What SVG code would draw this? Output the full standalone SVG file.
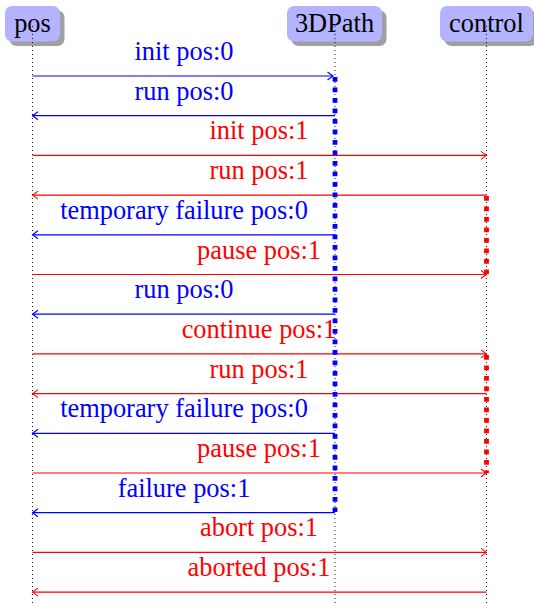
<svg xmlns="http://www.w3.org/2000/svg" width="534" height="604" viewBox="0 0 534 604">
<style>
.box{fill:#b3b3ff;stroke:none}
.shadow{fill:#a0a0a0;stroke:none}
.ntext{font-family:"Liberation Serif","Times New Roman","DejaVu Serif",serif;font-size:26.4px;fill:#000;text-anchor:middle}
.life{stroke:#000;stroke-width:0.9;stroke-dasharray:1 3;fill:none}
.lbl{font-family:"Liberation Serif","Times New Roman","DejaVu Serif",serif;font-size:26.4px;text-anchor:middle}
.b{fill:#0000ff}
.r{fill:#ff0000}
.mb{stroke:#0000ff;stroke-width:1.2;fill:none;marker-end:url(#ab)}
.mr{stroke:#ff0000;stroke-width:1.2;fill:none;marker-end:url(#ar)}
.actb{stroke:#0000ff;stroke-width:4.8;stroke-dasharray:4.7 5.8;fill:none}
.actr{stroke:#ff0000;stroke-width:4.8;stroke-dasharray:4.7 5.8;fill:none}
</style>
<defs>
<marker id="ab" markerUnits="userSpaceOnUse" markerWidth="12" markerHeight="12" viewBox="-8 -6 10 12" refX="0" refY="0" orient="auto">
<path d="M-5.5,-4 Q-1.5,-1 0,0 Q-1.5,1 -5.5,4" fill="none" stroke="#0000ff" stroke-width="1.1"/>
</marker>
<marker id="ar" markerUnits="userSpaceOnUse" markerWidth="12" markerHeight="12" viewBox="-8 -6 10 12" refX="0" refY="0" orient="auto">
<path d="M-5.5,-4 Q-1.5,-1 0,0 Q-1.5,1 -5.5,4" fill="none" stroke="#ff0000" stroke-width="1.1"/>
</marker>
</defs>
<rect width="534" height="604" fill="#fff"/>
<g id="node-pos">
<rect class="shadow" x="9.5" y="10.5" width="55" height="35.5" rx="7"/>
<rect class="box" x="5" y="6" width="55" height="35.5" rx="7"/>
<text class="ntext" x="32.5" y="32" font-family="Liberation Serif, serif">pos</text>
</g>
<g id="node-3DPath">
<rect class="shadow" x="291.5" y="10.5" width="95" height="35.5" rx="7"/>
<rect class="box" x="287" y="6" width="95" height="35.5" rx="7"/>
<text class="ntext" x="334.5" y="32" font-family="Liberation Serif, serif">3DPath</text>
</g>
<g id="node-control">
<rect class="shadow" x="444.5" y="10.5" width="93" height="35.5" rx="7"/>
<rect class="box" x="440" y="6" width="93" height="35.5" rx="7"/>
<text class="ntext" x="486.5" y="32" font-family="Liberation Serif, serif">control</text>
</g>
<g id="lifelines">
<line class="life" x1="32.5" y1="26" x2="32.5" y2="604"/>
<line class="life" x1="335" y1="26" x2="335" y2="604"/>
<line class="life" x1="486.5" y1="26" x2="486.5" y2="604"/>
</g>
<g id="connectors">
<line class="mb" x1="32.5" y1="76" x2="333" y2="76"/>
<line class="mb" x1="335" y1="115.7" x2="32.5" y2="115.7"/>
<line class="mr" x1="32.5" y1="155.4" x2="486.5" y2="155.4"/>
<line class="mr" x1="486.5" y1="195.1" x2="32.5" y2="195.1"/>
<line class="mb" x1="335" y1="234.8" x2="32.5" y2="234.8"/>
<line class="mr" x1="32.5" y1="274.5" x2="486.5" y2="274.5"/>
<line class="mb" x1="335" y1="314.2" x2="32.5" y2="314.2"/>
<line class="mr" x1="32.5" y1="353.9" x2="486.5" y2="353.9"/>
<line class="mr" x1="486.5" y1="393.6" x2="32.5" y2="393.6"/>
<line class="mb" x1="335" y1="433.3" x2="32.5" y2="433.3"/>
<line class="mr" x1="32.5" y1="473" x2="486.5" y2="473"/>
<line class="mb" x1="335" y1="512.7" x2="32.5" y2="512.7"/>
<line class="mr" x1="32.5" y1="552.4" x2="486.5" y2="552.4"/>
<line class="mr" x1="486.5" y1="592.1" x2="32.5" y2="592.1"/>
</g>
<g id="activations">
<line class="actb" x1="335" y1="77" x2="335" y2="512"/>
<line class="actr" x1="486.5" y1="196" x2="486.5" y2="274"/>
<line class="actr" x1="486.5" y1="355" x2="486.5" y2="473"/>
</g>
<g id="labels" font-family="Liberation Serif, serif">
<text class="lbl b" x="184" y="60">init pos:0</text>
<text class="lbl b" x="184" y="99.7">run pos:0</text>
<text class="lbl r" x="259" y="139.4">init pos:1</text>
<text class="lbl r" x="259" y="179.1">run pos:1</text>
<text class="lbl b" x="184" y="218.8">temporary failure pos:0</text>
<text class="lbl r" x="259" y="258.5">pause pos:1</text>
<text class="lbl b" x="184" y="298.2">run pos:0</text>
<text class="lbl r" x="259" y="337.9">continue pos:1</text>
<text class="lbl r" x="259" y="377.6">run pos:1</text>
<text class="lbl b" x="184" y="417.3">temporary failure pos:0</text>
<text class="lbl r" x="259" y="457">pause pos:1</text>
<text class="lbl b" x="184" y="496.7">failure pos:1</text>
<text class="lbl r" x="259" y="536.4">abort pos:1</text>
<text class="lbl r" x="259" y="576.1">aborted pos:1</text>
</g>
</svg>
